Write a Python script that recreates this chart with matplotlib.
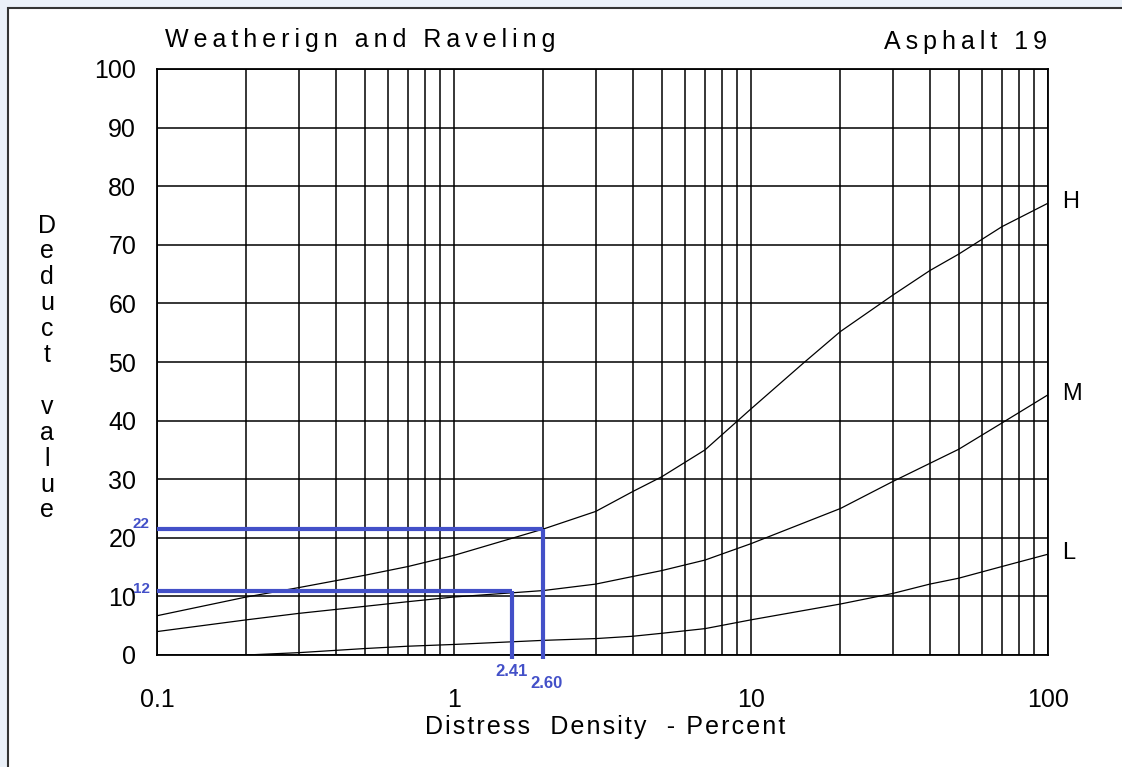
import matplotlib
matplotlib.use("Agg")
import matplotlib.pyplot as plt
from matplotlib.patches import Rectangle
from matplotlib.ticker import FixedLocator, NullFormatter, LogLocator

# ---------------- data ----------------
h_x = [0.1, 0.2, 0.3, 0.5, 0.7, 1.0, 2.0, 3.0, 4.0, 5.0, 7.0, 10, 15, 20, 30, 40, 50, 70, 100]
h_y = [6.7, 9.9, 11.5, 13.6, 15.1, 17.0, 21.5, 24.5, 27.9, 30.4, 35.0, 42.0, 49.8, 55.2, 61.4, 65.6, 68.4, 73.1, 77.1]

m_x = [0.1, 0.2, 0.3, 0.5, 0.7, 1.0, 2.0, 3.0, 4.0, 5.0, 7.0, 10, 20, 30, 40, 50, 70, 100]
m_y = [4.0, 6.0, 7.1, 8.3, 9.1, 9.9, 11.0, 12.1, 13.4, 14.4, 16.2, 19.0, 25.0, 29.6, 32.7, 35.1, 39.6, 44.4]

l_x = [0.2, 0.3, 0.5, 0.7, 1.0, 2.0, 3.0, 4.0, 5.0, 7.0, 10, 20, 30, 40, 50, 70, 100]
l_y = [0.0, 0.4, 1.1, 1.5, 1.8, 2.5, 2.8, 3.2, 3.7, 4.5, 6.0, 8.7, 10.5, 12.1, 13.1, 15.1, 17.2]

curve_names = ["H", "M", "L"]

# blue read-off guides (positions as drawn) and their annotations
guide_x = [2.0, 1.57]
guide_y = [21.5, 10.9]
guide_y_labels = ["22", "12"]
guide_x_labels = ["2.60", "2.41"]

x_ticks = [0.1, 1, 10, 100]
x_tick_labels = ["0.1", "1", "10", "100"]
y_ticks = list(range(0, 101, 10))

# ---------------- figure ----------------
W, H = 1122, 767
fig = plt.figure(figsize=(W / 100, H / 100), dpi=100)
fig.patch.set_facecolor("#eaf0f8")

frame = Rectangle((8 / W, -0.05), 1.2, 1 - 8 / H + 0.05, transform=fig.transFigure,
                  facecolor="white", edgecolor="#333333", linewidth=1.5, zorder=0)
fig.add_artist(frame)

left, right, top, bottom = 157, 1048, 69, 655
ax = fig.add_axes([left / W, 1 - bottom / H, (right - left) / W, (bottom - top) / H])
ax.set_facecolor("white")
ax.set_xscale("log")
ax.set_xlim(0.1, 100)
ax.set_ylim(0, 100)

FONT = ["Liberation Sans", "DejaVu Sans"]

ax.xaxis.set_major_locator(FixedLocator(x_ticks))
ax.set_xticklabels(x_tick_labels, fontsize=18, family=FONT)
ax.xaxis.set_minor_locator(LogLocator(base=10, subs=range(2, 10)))
ax.xaxis.set_minor_formatter(NullFormatter())
ax.set_yticks(y_ticks)
ax.set_yticklabels([str(v) for v in y_ticks], fontsize=18, family=FONT)
ax.tick_params(axis="both", which="both", length=0)
ax.tick_params(axis="x", pad=24)
ax.tick_params(axis="y", pad=15)

ax.grid(True, which="both", axis="x", color="black", linewidth=1.1)
ax.grid(True, which="major", axis="y", color="black", linewidth=1.1)
for s in ax.spines.values():
    s.set_color("black")
    s.set_linewidth(1.3)

# curves
for xs, ys, name in zip([h_x, m_x, l_x], [h_y, m_y, l_y], curve_names):
    ax.plot(xs, ys, color="black", linewidth=0.9, zorder=3)
    ax.annotate(name, xy=(xs[-1], ys[-1]), xytext=(14, 1), textcoords="offset pixels",
                ha="left", va="center", fontsize=17, family=FONT, annotation_clip=False)

# blue guides
blue = "#4350c8"
for gx, gy in zip(guide_x, guide_y):
    ax.plot([0.1, gx], [gy, gy], color=blue, linewidth=3, solid_capstyle="butt",
            zorder=4, clip_on=False)
    ax.plot([gx, gx], [gy, -0.6], color=blue, linewidth=3, solid_capstyle="butt",
            zorder=4, clip_on=False)

ax.annotate(guide_y_labels[0], xy=(0.1, guide_y[0]), xytext=(-16, 5), textcoords="offset pixels",
            ha="center", va="center", fontsize=11, fontweight="bold", color=blue, family=FONT,
            annotation_clip=False, zorder=5)
ax.annotate(guide_y_labels[1], xy=(0.1, guide_y[1]), xytext=(-16, 2), textcoords="offset pixels",
            ha="center", va="center", fontsize=11, fontweight="bold", color=blue, family=FONT,
            annotation_clip=False, zorder=5)
ax.annotate(guide_x_labels[1], xy=(guide_x[1], 0), xytext=(-1, -17), textcoords="offset pixels",
            ha="center", va="center", fontsize=12, fontweight="bold", color=blue, family=FONT,
            annotation_clip=False)
ax.annotate(guide_x_labels[0], xy=(guide_x[0], 0), xytext=(3, -28), textcoords="offset pixels",
            ha="center", va="center", fontsize=12, fontweight="bold", color=blue, family=FONT,
            annotation_clip=False)

# titles with letter spacing
def spaced(s, sep="\u2009"):
    return sep.join(s)

fig.text(165 / W, 1 - 40 / H, spaced("Weatherign and Raveling"), ha="left", va="center",
         fontsize=18, family=FONT)
fig.text(1047 / W, 1 - 42 / H, spaced("Asphalt 19"), ha="right", va="center",
         fontsize=18, family=FONT)

fig.text(605 / W, 1 - 727 / H, spaced("Distress  Density  - Percent", "\u200a"),
         ha="center", va="center", fontsize=18, family=FONT)

ylab = "\n".join(list("Deduct") + [" "] + list("value"))
fig.text(47 / W, 1 - 368 / H, ylab, ha="center", va="center", fontsize=18,
         family=FONT, linespacing=1.1, multialignment="center")

fig.savefig("out.png", dpi=100, facecolor=fig.get_facecolor())
